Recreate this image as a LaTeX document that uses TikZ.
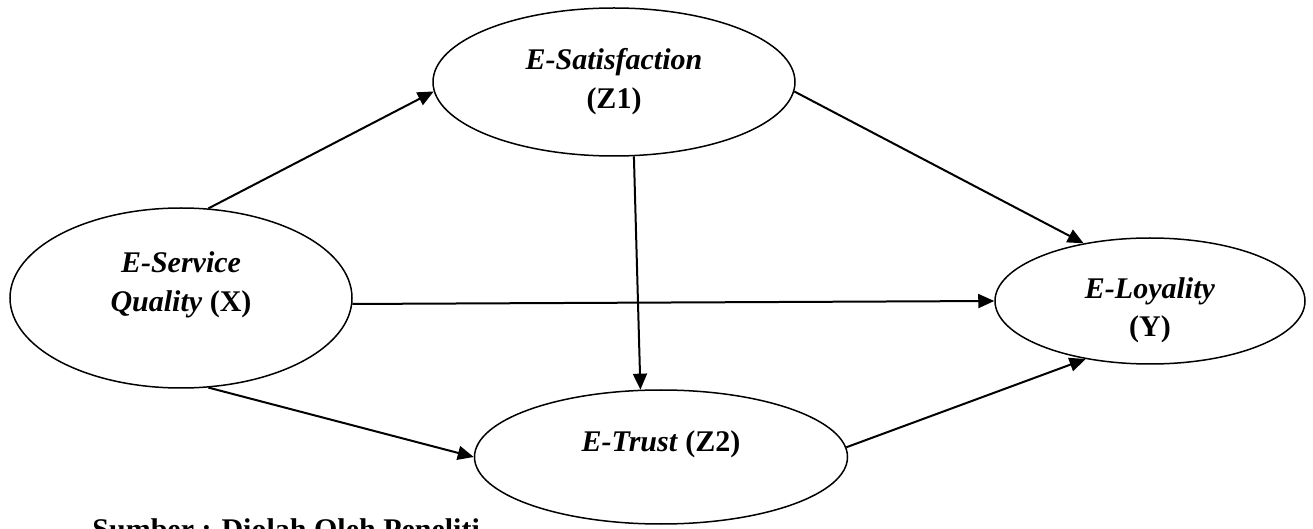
\documentclass[tikz,border=0pt]{standalone}
\usepackage{fontspec}
\setmainfont{Liberation Serif}
\usetikzlibrary{shapes.geometric,arrows.meta}
\newcommand{\vlbl}[2]{\raisebox{#1}[0pt][0pt]{\begin{tabular}[t]{@{}c@{}}#2\end{tabular}}}

\begin{document}
\begin{tikzpicture}[x=0.5pt, y=-0.5pt,
    var/.style={draw,ellipse,line width=0.75pt,inner sep=0pt,font=\fontsize{15}{19.5}\selectfont},
    path/.style={-{Triangle[length=8pt,width=7pt]},line width=1pt}]%
  \useasboundingbox (0,0) rectangle (1313,529);%
  \node[var,minimum width=171pt,minimum height=90pt] (V-X) at (181,298) {\vlbl{12.5pt}{\textbf{\textit{E-Service}}\\\textbf{\textit{Quality}} \textbf{(X)}}};
  \node[var,minimum width=181pt,minimum height=74pt] (V-Z1) at (614,82) {\vlbl{6pt}{\textbf{\textit{E-Satisfaction}}\\\textbf{(Z1)}}};
  \node[var,minimum width=186.5pt,minimum height=67pt] (V-Z2) at (661,457) {\vlbl{2.5pt}{\textbf{\textit{E-Trust}} \textbf{(Z2)}}};
  \node[var,minimum width=155pt,minimum height=63pt] (V-Y) at (1150,301) {\vlbl{1.5pt}{\textbf{\textit{E-Loyality}}\\\textbf{(Y)}}};
  \node[anchor=base west,inner sep=0pt,font=\fontsize{15}{19.5}\selectfont\bfseries] (src) at (92,539) {Sumber : Diolah Oleh Peneliti};
  \foreach \a/\b in {V-X.73/V-Z1.183, V-X.-2/V-Y.west, V-X.-73/V-Z2.west,
      V-Z1.-3/V-Y.139, V-Z1.-75/V-Z2.107, V-Z2.3/V-Y.222}{%
    \draw[path] (\a) -- (\b);
  }
\end{tikzpicture}
\end{document}
